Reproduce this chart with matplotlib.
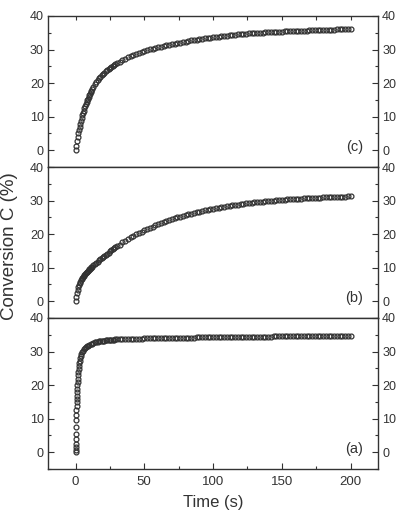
import matplotlib
matplotlib.use("Agg")
import matplotlib.pyplot as plt
from matplotlib.ticker import MultipleLocator

plt.rcParams['font.family'] = ['Liberation Sans', 'DejaVu Sans']

# ---------------- data ----------------
t_early_bc = [0, 0.5, 1, 1.5, 2, 2.5, 3, 3.5, 4, 4.5, 5, 5.5, 6, 6.5, 7, 7.5,
              8, 8.5, 9, 9.5, 10, 10.5, 11, 11.5]
t_early_a = [0, 0.05, 0.1, 0.15, 0.2, 0.3, 0.4, 0.5, 0.6, 0.7,
             0.8, 0.9, 1.0, 1.1, 1.2, 1.3, 1.4, 1.5, 1.65, 1.8,
             2.0, 2.2, 2.4, 2.7, 3.0, 3.4, 3.8, 4.3, 4.8, 5.4,
             6.0, 6.7, 7.4, 8.2, 9.0, 10.0, 11.0]
t_late = [12, 13, 14, 15, 16, 17, 18, 19, 20, 21, 22, 23, 24, 25, 26, 27, 28, 29, 30,
          32, 34, 36, 38, 40, 42, 44, 46, 48, 50, 52, 54, 56, 58, 60, 62, 64, 66, 68, 70,
          72, 74, 76, 78, 80, 82, 84, 86, 88, 90, 92, 94, 96, 98, 100, 102, 104, 106, 108, 110,
          112, 114, 116, 118, 120, 122, 124, 126, 128, 130, 132, 134, 136, 138, 140, 142, 144, 146, 148, 150,
          152, 154, 156, 158, 160, 162, 164, 166, 168, 170, 172, 174, 176, 178, 180, 182, 184, 186, 188, 190,
          192, 194, 196, 198, 200]

conv_c_early = [0, 1.4, 2.7, 3.9, 5.0, 6.0, 7.0, 7.9, 8.8, 9.6, 10.4, 11.1, 11.8, 12.5,
                13.1, 13.7, 14.3, 14.9, 15.4, 15.9, 16.4, 16.8, 17.3, 17.7]
conv_c_late = [18.1, 18.9, 19.6, 20.3, 20.9, 21.4, 21.9, 22.3, 22.7, 23.1, 23.5, 23.8, 24.1, 24.4, 24.7, 25.0, 25.3, 25.6, 25.9,
               26.4, 26.9, 27.3, 27.7, 28.1, 28.4, 28.8, 29.1, 29.4, 29.6, 29.9, 30.1, 30.3, 30.5, 30.7, 30.9, 31.1, 31.3, 31.5, 31.6,
               31.8, 32.0, 32.1, 32.3, 32.4, 32.6, 32.7, 32.8, 32.9, 33.0, 33.2, 33.3, 33.4, 33.5, 33.6, 33.7, 33.8, 33.9, 34.0, 34.1,
               34.2, 34.3, 34.4, 34.5, 34.6, 34.7, 34.7, 34.8, 34.8, 34.9, 34.9, 35.0, 35.0, 35.1, 35.1, 35.2, 35.2, 35.2, 35.3, 35.3,
               35.4, 35.4, 35.4, 35.5, 35.5, 35.5, 35.6, 35.6, 35.6, 35.7, 35.7, 35.7, 35.8, 35.8, 35.8, 35.8, 35.9, 35.9, 35.9, 36.0,
               36.0, 36.0, 36.0, 36.1, 36.1]

conv_b_early = [0, 1.4, 2.5, 3.4, 4.1, 4.8, 5.3, 5.8, 6.2, 6.6, 6.9, 7.3, 7.5, 7.8,
                8.1, 8.3, 8.6, 8.8, 9.0, 9.2, 9.5, 9.7, 9.9, 10.1]
conv_b_late = [10.3, 10.7, 11.1, 11.4, 11.8, 12.2, 12.5, 12.9, 13.2, 13.6, 13.9, 14.2, 14.5, 14.9, 15.2, 15.5, 15.8, 16.1, 16.4,
               16.9, 17.5, 18.0, 18.5, 19.0, 19.4, 19.9, 20.3, 20.7, 21.1, 21.5, 21.9, 22.2, 22.6, 22.9, 23.3, 23.6, 23.9, 24.2, 24.4,
               24.7, 25.0, 25.2, 25.5, 25.7, 25.9, 26.1, 26.3, 26.5, 26.7, 26.9, 27.1, 27.3, 27.5, 27.6, 27.8, 27.9, 28.1, 28.2, 28.3,
               28.5, 28.6, 28.7, 28.8, 29.0, 29.1, 29.2, 29.3, 29.4, 29.5, 29.6, 29.6, 29.7, 29.8, 29.9, 30.0, 30.0, 30.1, 30.2, 30.2,
               30.3, 30.4, 30.4, 30.5, 30.5, 30.6, 30.6, 30.7, 30.7, 30.8, 30.8, 30.9, 30.9, 30.9, 31.0, 31.0, 31.0, 31.1, 31.1, 31.1,
               31.2, 31.2, 31.2, 31.3, 31.3]

conv_a_early = [0, 0.7, 1.5, 2.5, 4.0, 5.5, 7.5, 9.5, 11.0, 12.5,
                13.7, 14.9, 15.9, 16.9, 17.9, 18.9, 19.9, 20.9, 21.9, 22.9,
                23.9, 24.8, 25.6, 26.5, 27.3, 28.1, 28.8, 29.4, 29.9, 30.3,
                30.7, 31.0, 31.3, 31.6, 31.8, 32.0, 32.2]
conv_a_late = [32.4, 32.55, 32.7, 32.8, 32.9, 33.0, 33.1, 33.15, 33.2, 33.25, 33.3, 33.35, 33.4, 33.45, 33.5, 33.5, 33.55, 33.6, 33.6,
               33.65, 33.7, 33.72, 33.75, 33.78, 33.8, 33.83, 33.86, 33.88, 33.9, 33.92, 33.94, 33.96, 33.98, 34.0, 34.02, 34.03, 34.05, 34.06, 34.08,
               34.09, 34.1, 34.12, 34.13, 34.14, 34.16, 34.17, 34.18, 34.2, 34.21, 34.22, 34.23, 34.25, 34.26, 34.27, 34.28, 34.29, 34.3, 34.31, 34.32,
               34.33, 34.34, 34.35, 34.36, 34.37, 34.38, 34.39, 34.4, 34.41, 34.42, 34.43, 34.44, 34.45, 34.46, 34.47, 34.48, 34.49, 34.5, 34.5, 34.51,
               34.52, 34.53, 34.54, 34.55, 34.55, 34.56, 34.57, 34.58, 34.59, 34.6, 34.6, 34.61, 34.62, 34.63, 34.63, 34.64, 34.65, 34.66, 34.66, 34.67,
               34.68, 34.68, 34.69, 34.7, 34.7]

panel_labels = ["(c)", "(b)", "(a)"]
x_ticks = [0, 50, 100, 150, 200]
y_ticks = [0, 10, 20, 30, 40]

series = [
    (t_early_bc + t_late, conv_c_early + conv_c_late),
    (t_early_bc + t_late, conv_b_early + conv_b_late),
    (t_early_a + t_late, conv_a_early + conv_a_late),
]

# ---------------- figure ----------------
W, H = 420, 517
fig = plt.figure(figsize=(W / 100, H / 100), dpi=100)
fig.patch.set_facecolor('white')

left = 48 / W
width = (378 - 48) / W
tops = [16, 167, 318]
ph = 151

dark = '#333333'
axes = []
for i, (top, (tt, cc), lab) in enumerate(zip(tops, series, panel_labels)):
    bottom = 1 - (top + ph) / H
    ax = fig.add_axes([left, bottom, width, ph / H])
    axes.append(ax)
    ax.plot(tt, cc, linestyle='none', marker='o', ms=3.5, mfc='none',
            mec='#333333', mew=0.9)
    ax.set_xlim(-20, 220)
    ax.set_ylim(-5, 40)
    ax.set_xticks(x_ticks)
    ax.xaxis.set_minor_locator(MultipleLocator(25))
    ax.set_yticks(y_ticks)
    ax.yaxis.set_minor_locator(MultipleLocator(5))
    for s in ax.spines.values():
        s.set_color(dark)
        s.set_linewidth(1.0)
    ax.tick_params(axis='y', which='both', direction='in', left=True, right=True,
                   labelleft=True, labelright=True, colors=dark, labelsize=9, pad=3)
    ax.tick_params(axis='y', which='major', length=4, width=0.8)
    ax.tick_params(axis='y', which='minor', length=2.5, width=0.8)
    ax.tick_params(axis='x', which='both', direction='in', colors=dark,
                   labelsize=9.5, top=(i == 0), bottom=(i == 2),
                   labelbottom=(i == 2), labeltop=False, pad=5)
    ax.tick_params(axis='x', which='major', length=4, width=0.8)
    ax.tick_params(axis='x', which='minor', length=2.5, width=0.8)
    if i == 0:
        ax.tick_params(axis='x', which='both', length=3)
    ax.text(0.955, 0.135, lab, transform=ax.transAxes, ha='right', va='center',
            fontsize=10.5, color=dark)

axes[2].set_xlabel("Time (s)", fontsize=12, color=dark, labelpad=5)
fig.text(10 / W, 1 - 246 / H, "Conversion C (%)", rotation=90, ha='center',
         va='center', fontsize=13.5, color=dark)

fig.savefig("out.png", dpi=100)
